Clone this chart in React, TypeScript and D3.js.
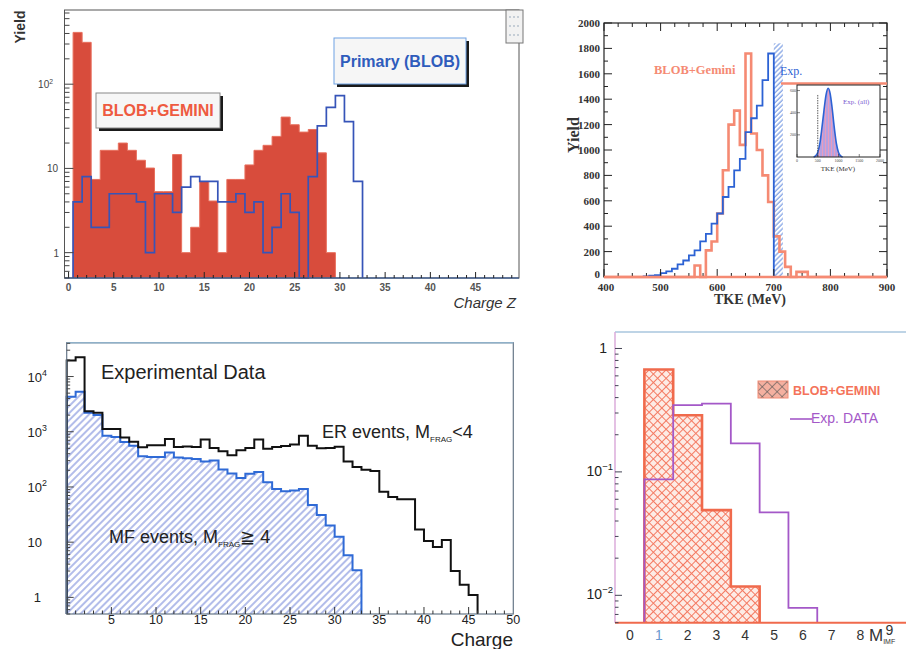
import React, { useEffect, useRef } from 'react';
import * as d3 from 'd3';

// top left: charge Z, unit bins, first bin centred on Z = 1
const zBinStart = 0.5;
const zBlobGemini = [412, 314, 7.4, 16.4, 16.4, 20, 16.4, 12.5, 10.1, 5.3, 5.3, 14.6, 1, 2, 7, 4.1, 1, 7.4, 7.4, 11, 16.4, 18.8, 24, 40.7, 33, 27, 29, 15.3, 1];
const zPrimaryBlob = [4, 8, 2, 2, 5, 5, 5, 4, 1, 5, 5, 3, 6, 8, 7, 7, 4, 4, 5, 3, 4, 1, 2, 5, 3, 0, 8, 32, 53, 73, 36, 7];
const zTickLabels = [0, 5, 10, 15, 20, 25, 30, 35, 40, 45];

// top right: TKE, 10 MeV bins
const tkeBin = 10;
const tkeGeminiStart = 400;
const tkeBlobGemini = [0, 0, 0, 0, 0, 0, 0, 0, 0, 0, 0, 0, 0, 0, 0, 0, 90, 0, 210, 280, 500, 840, 1200, 1310, 1040, 1760, 1130, 1000, 800, 590, 320, 200, 80, 0, 40, 40, 0, 0, 0, 0, 0, 0, 0, 0, 0, 0, 0, 0, 0, 0];
const tkeExpStart = 470;
const tkeExp = [5, 10, 15, 30, 45, 65, 100, 130, 170, 210, 280, 340, 420, 500, 630, 710, 840, 930, 1140, 1250, 1350, 1550, 1760];
const tkeTickLabels = [400, 500, 600, 700, 800, 900];
const yieldTickLabels = [0, 200, 400, 600, 800, 1000, 1200, 1400, 1600, 1800, 2000];
const expBand = [700, 716];
const expBandTop = 1840;

// inset of the top right panel
const insetStart = 400;
const insetBin = 50;
const insetYield = [0, 10, 40, 120, 260, 420, 560, 620, 570, 430, 260, 120, 40, 10, 0];
const insetTickLabels = [0, 500, 1000, 1500, 2000];
const insetYieldTicks = [200, 400, 600];

// bottom left: charge, unit bins starting at 0
const chargeStart = 0;
const chargeErEvents = [19500, 22400, 2340, 2200, 1120, 1120, 790, 660, 523, 570, 570, 740, 530, 540, 530, 720, 510, 444, 376, 460, 510, 720, 490, 530, 550, 590, 850, 560, 500, 510, 535, 290, 230, 205, 195, 82, 66, 60, 60, 17, 10.5, 8.2, 11, 3, 1.7, 1.1];
const chargeMfEvents = [4300, 5300, 2200, 2000, 850, 800, 650, 560, 360, 350, 350, 420, 340, 330, 320, 290, 300, 207, 175, 146, 173, 186, 122, 92, 84, 86, 92, 47, 31, 20, 12.6, 5.8, 3.1];
const chargeTickLabels = [5, 10, 15, 20, 25, 30, 35, 40, 45, 50];
const chargeDecades = [0, 1, 2, 3, 4];

// bottom right: IMF multiplicity, first bin centred on 1
const imfStart = 0.5;
const imfBlobGemini = [0.676, 0.288, 0.049, 0.0118];
const imfExpData = [0.087, 0.347, 0.358, 0.17, 0.047, 0.0079];
const imfTickLabels = [0, 1, 2, 3, 4, 5, 6, 7, 8, 9];
const imfDecades = [0, -1, -2];

const SANS = 'Liberation Sans, Arial, Helvetica, sans-serif';
const SERIF = 'Liberation Serif, Times New Roman, serif';

// step outline of a histogram, dropping to the floor at both ends
const histPath = (x: any, y: any, start: number, width: number, vals: number[], floor: number) => {
    const pts: [number, number][] = [[start, floor]];
    vals.forEach((v, i) => {
        const h = Math.max(v, floor);
        pts.push([start + i * width, h], [start + (i + 1) * width, h]);
    });
    pts.push([start + vals.length * width, floor]);
    return d3.line<[number, number]>().x(d => x(d[0])).y(d => y(d[1]))(pts);
};

const logTicks = (lo: number, hi: number) => {
    const out: { v: number, major: boolean }[] = [];
    for (let e = Math.floor(Math.log10(lo)); e <= Math.ceil(Math.log10(hi)); e++) {
        for (let m = 1; m < 10; m++) {
            const v = m * Math.pow(10, e);
            if (v >= lo && v <= hi) out.push({ v, major: m === 1 });
        }
    }
    return out;
};

const powLabel = (g: any, x: number, y: number, exp: string, size: number, font: string, color = '#222') => {
    const t = g.append('text').attr('x', x).attr('y', y).attr('text-anchor', 'end')
        .style('font-family', font).style('font-size', `${size}px`).attr('fill', color);
    t.append('tspan').text('10');
    t.append('tspan').attr('dy', -size * 0.45).style('font-size', `${size * 0.68}px`).text(exp);
};

const App = () => {
    const svgRef = useRef<SVGSVGElement>(null);

    useEffect(() => {
        const svg = d3.select(svgRef.current);
        svg.selectAll('*').remove();

        const defs = svg.append('defs');
        const diag = defs.append('pattern').attr('id', 'diagBlue').attr('patternUnits', 'userSpaceOnUse')
            .attr('width', 5).attr('height', 5).attr('patternTransform', 'rotate(45)');
        diag.append('line').attr('x1', 1).attr('y1', 0).attr('x2', 1).attr('y2', 5)
            .attr('stroke', '#8090dc').attr('stroke-width', 1.2);
        const diag2 = defs.append('pattern').attr('id', 'diagExp').attr('patternUnits', 'userSpaceOnUse')
            .attr('width', 3.5).attr('height', 3.5).attr('patternTransform', 'rotate(45)');
        diag2.append('line').attr('x1', 1).attr('y1', 0).attr('x2', 1).attr('y2', 3.5)
            .attr('stroke', '#5b86dc').attr('stroke-width', 1);
        const cross = defs.append('pattern').attr('id', 'crossRed').attr('patternUnits', 'userSpaceOnUse')
            .attr('width', 6).attr('height', 6).attr('patternTransform', 'rotate(45)');
        cross.append('rect').attr('width', 6).attr('height', 6).attr('fill', '#fdebe5');
        cross.append('line').attr('x1', 0).attr('y1', 0).attr('x2', 0).attr('y2', 6).attr('stroke', '#f47a62').attr('stroke-width', 2);
        cross.append('line').attr('x1', 0).attr('y1', 0).attr('x2', 6).attr('y2', 0).attr('stroke', '#f47a62').attr('stroke-width', 2);
        const crossDark = defs.append('pattern').attr('id', 'crossDark').attr('patternUnits', 'userSpaceOnUse')
            .attr('width', 7).attr('height', 7).attr('patternTransform', 'rotate(45)');
        crossDark.append('rect').attr('width', 7).attr('height', 7).attr('fill', '#f4b0a0');
        crossDark.append('line').attr('x1', 0).attr('y1', 0).attr('x2', 0).attr('y2', 7).attr('stroke', '#555').attr('stroke-width', 1.2);
        crossDark.append('line').attr('x1', 0).attr('y1', 0).attr('x2', 7).attr('y2', 0).attr('stroke', '#555').attr('stroke-width', 1.2);
        const stripes = defs.append('pattern').attr('id', 'insetStripes').attr('patternUnits', 'userSpaceOnUse')
            .attr('width', 3).attr('height', 10);
        stripes.append('rect').attr('width', 3).attr('height', 10).attr('fill', '#a990dc');
        stripes.append('line').attr('x1', 0.5).attr('y1', 0).attr('x2', 0.5).attr('y2', 10).attr('stroke', '#e48bb4').attr('stroke-width', 1);

        svg.append('rect').attr('width', 906).attr('height', 649).attr('fill', '#fff');

        // ---------------- top left ----------------
        const gA = svg.append('g');
        const ax = d3.scaleLinear().domain([-0.45, 49.8]).range([64.5, 519]);
        const ay = d3.scaleLog().domain([0.5, 760]).range([278, 10]);
        gA.append('path').attr('d', histPath(ax, ay, zBinStart, 1, zBlobGemini, 0.5))
            .attr('fill', '#d84c3c').attr('stroke', '#e8705e').attr('stroke-width', 1);
        gA.append('line').attr('x1', 64.5).attr('x2', 519).attr('y1', 278).attr('y2', 278)
            .attr('stroke', '#3a70d0').attr('stroke-width', 1.5);
        gA.append('path').attr('d', histPath(ax, ay, zBinStart, 1, zPrimaryBlob, 0.5))
            .attr('fill', 'none').attr('stroke', '#3654b8').attr('stroke-width', 1.7);
        gA.append('rect').attr('x', 64.5).attr('y', 10).attr('width', 454.5).attr('height', 268)
            .attr('fill', 'none').attr('stroke', '#555').attr('stroke-width', 1);
        d3.range(0, 50).forEach(i => {
            gA.append('line').attr('x1', ax(i)).attr('x2', ax(i)).attr('y1', 278).attr('y2', 278 - (i % 5 === 0 ? 6 : 3))
                .attr('stroke', '#222').attr('stroke-width', 1);
        });
        zTickLabels.forEach(v => {
            gA.append('text').attr('x', ax(v)).attr('y', 291).attr('text-anchor', 'middle')
                .style('font-family', SANS).style('font-size', '10px').style('font-weight', 'bold').attr('fill', '#555').text(v);
        });
        logTicks(0.5, 760).forEach(t => {
            gA.append('line').attr('x1', 64.5).attr('x2', 64.5 + (t.major ? 9 : 5)).attr('y1', ay(t.v)).attr('y2', ay(t.v))
                .attr('stroke', '#444').attr('stroke-width', 1);
        });
        gA.append('text').attr('x', 59).attr('y', ay(1) + 4).attr('text-anchor', 'end')
            .style('font-family', SANS).style('font-size', '10px').attr('fill', '#444').text('1');
        gA.append('text').attr('x', 58).attr('y', ay(10) + 4).attr('text-anchor', 'end')
            .style('font-family', SANS).style('font-size', '10px').attr('fill', '#444').text('10');
        powLabel(gA, 53, ay(100) + 4, '2', 10, SANS, '#444');
        gA.append('text').attr('transform', 'translate(25,27) rotate(-90)').attr('text-anchor', 'middle')
            .style('font-family', SANS).style('font-size', '14px').style('font-weight', 'bold').attr('fill', '#333').text('Yield');
        gA.append('text').attr('x', 516).attr('y', 308).attr('text-anchor', 'end')
            .style('font-family', SANS).style('font-size', '15px').style('font-style', 'italic').attr('fill', '#333').text('Charge Z');

        // label boxes with drop shadow
        const labelBox = (x: number, y: number, w: number, h: number, border: string, text: string, color: string, size: number) => {
            gA.append('rect').attr('x', x + 3).attr('y', y + 3).attr('width', w).attr('height', h).attr('fill', '#1a1a1a');
            gA.append('rect').attr('x', x).attr('y', y).attr('width', w).attr('height', h)
                .attr('fill', '#f6f6f6').attr('stroke', border).attr('stroke-width', 1);
            gA.append('text').attr('x', x + w / 2).attr('y', y + h / 2 + size * 0.36).attr('text-anchor', 'middle')
                .style('font-family', SANS).style('font-size', `${size}px`).style('font-weight', 'bold').attr('fill', color).text(text);
        };
        labelBox(96, 93, 124, 35, '#888', 'BLOB+GEMINI', '#ee5a40', 16);
        labelBox(334, 38, 132, 46, '#6fa2e4', 'Primary (BLOB)', '#2f5cbc', 16);
        gA.append('rect').attr('x', 506).attr('y', 10).attr('width', 17).attr('height', 33)
            .attr('fill', '#f2f2f2').attr('stroke', '#777').attr('stroke-width', 1);
        [17, 26, 35].forEach(yy => {
            gA.append('line').attr('x1', 509).attr('x2', 520).attr('y1', yy).attr('y2', yy)
                .attr('stroke', '#9ab').attr('stroke-width', 1).attr('stroke-dasharray', '2,2');
        });

        // ---------------- top right ----------------
        const gB = svg.append('g');
        const bx = d3.scaleLinear().domain([400, 900]).range([604, 887]);
        const by = d3.scaleLinear().domain([0, 2000]).range([277, 23]);
        gB.append('rect').attr('x', bx(expBand[0])).attr('y', by(expBandTop))
            .attr('width', bx(expBand[1]) - bx(expBand[0])).attr('height', by(0) - by(expBandTop))
            .attr('fill', 'url(#diagExp)');
        gB.append('path').attr('d', histPath(bx, by, tkeGeminiStart, tkeBin, tkeBlobGemini, 0))
            .attr('fill', 'none').attr('stroke', '#f58a73').attr('stroke-width', 2.6);
        gB.append('path').attr('d', histPath(bx, by, tkeExpStart, tkeBin, tkeExp, 0))
            .attr('fill', 'none').attr('stroke', '#2c62d4').attr('stroke-width', 1.8);
        gB.append('rect').attr('x', 604).attr('y', 23).attr('width', 283).attr('height', 254)
            .attr('fill', 'none').attr('stroke', '#222').attr('stroke-width', 1.2);
        d3.range(400, 901, 25).forEach(v => {
            const len = v % 100 === 0 ? 8 : 4;
            gB.append('line').attr('x1', bx(v)).attr('x2', bx(v)).attr('y1', 277).attr('y2', 277 - len).attr('stroke', '#222');
            gB.append('line').attr('x1', bx(v)).attr('x2', bx(v)).attr('y1', 23).attr('y2', 23 + len).attr('stroke', '#222');
        });
        d3.range(0, 2001, 100).forEach(v => {
            const len = v % 200 === 0 ? 8 : 4;
            gB.append('line').attr('x1', 604).attr('x2', 604 + len).attr('y1', by(v)).attr('y2', by(v)).attr('stroke', '#222');
            gB.append('line').attr('x1', 887).attr('x2', 887 - len).attr('y1', by(v)).attr('y2', by(v)).attr('stroke', '#222');
        });
        gB.append('line').attr('x1', 604).attr('x2', 887).attr('y1', 277).attr('y2', 277)
            .attr('stroke', '#f58a73').attr('stroke-width', 2.6);
        yieldTickLabels.forEach(v => {
            gB.append('text').attr('x', 600).attr('y', v === 0 ? by(v) + 1 : by(v) + 4).attr('text-anchor', 'end')
                .style('font-family', SERIF).style('font-size', '11px').style('font-weight', 'bold').attr('fill', '#333').text(v);
        });
        tkeTickLabels.forEach(v => {
            gB.append('text').attr('x', v === 400 ? bx(v) + 2 : bx(v)).attr('y', 291).attr('text-anchor', 'middle')
                .style('font-family', SERIF).style('font-size', '11px').style('font-weight', 'bold').attr('fill', '#333').text(v);
        });
        gB.append('text').attr('transform', 'translate(579,135) rotate(-90)').attr('text-anchor', 'middle')
            .style('font-family', SERIF).style('font-size', '16px').style('font-weight', 'bold').attr('fill', '#333').text('Yield');
        gB.append('text').attr('x', 750).attr('y', 304).attr('text-anchor', 'middle')
            .style('font-family', SERIF).style('font-size', '14px').style('font-weight', 'bold').attr('fill', '#333').text('TKE (MeV)');
        gB.append('text').attr('x', 654).attr('y', 74)
            .style('font-family', SERIF).style('font-size', '12.5px').style('font-weight', 'bold').attr('fill', '#f58a73').text('BLOB+Gemini');
        gB.append('text').attr('x', 780).attr('y', 75)
            .style('font-family', SERIF).style('font-size', '12px').attr('fill', '#2c62d4').text('Exp.');

        // inset
        const ix = d3.scaleLinear().domain([0, 2000]).range([797, 880]);
        const iy = d3.scaleLinear().domain([0, 650]).range([157, 85]);
        gB.append('line').attr('x1', 781).attr('x2', 887).attr('y1', 83.5).attr('y2', 83.5)
            .attr('stroke', '#f58a73').attr('stroke-width', 2.4);
        gB.append('rect').attr('x', 797).attr('y', 85).attr('width', 83).attr('height', 72).attr('fill', '#fff');
        const insetPts: [number, number][] = insetYield.map((v, i) => [insetStart + i * insetBin, v]);
        gB.append('path').attr('d', d3.area<[number, number]>().x(d => ix(d[0])).y0(iy(0)).y1(d => iy(d[1]))
            .curve(d3.curveMonotoneX)(insetPts)).attr('fill', 'url(#insetStripes)').attr('opacity', 0.85);
        gB.append('path').attr('d', d3.line<[number, number]>().x(d => ix(d[0])).y(d => iy(d[1]))
            .curve(d3.curveMonotoneX)(insetPts)).attr('fill', 'none').attr('stroke', '#2c62d4').attr('stroke-width', 1.6);
        gB.append('line').attr('x1', ix(500)).attr('x2', ix(500)).attr('y1', iy(560)).attr('y2', iy(0))
            .attr('stroke', '#333').attr('stroke-width', 0.8).attr('stroke-dasharray', '1.5,1');
        gB.append('rect').attr('x', 797).attr('y', 85).attr('width', 83).attr('height', 72)
            .attr('fill', 'none').attr('stroke', '#222').attr('stroke-width', 1);
        insetTickLabels.forEach(v => {
            gB.append('line').attr('x1', ix(v)).attr('x2', ix(v)).attr('y1', 157).attr('y2', 154).attr('stroke', '#333').attr('stroke-width', 0.6);
            gB.append('text').attr('x', ix(v)).attr('y', 162).attr('text-anchor', 'middle')
                .style('font-family', SERIF).style('font-size', '4px').attr('fill', '#444').text(v);
        });
        insetYieldTicks.forEach(v => {
            gB.append('line').attr('x1', 797).attr('x2', 800).attr('y1', iy(v)).attr('y2', iy(v)).attr('stroke', '#333').attr('stroke-width', 0.6);
            gB.append('text').attr('x', 796).attr('y', iy(v) + 1.5).attr('text-anchor', 'end')
                .style('font-family', SERIF).style('font-size', '4px').attr('fill', '#444').text(v);
        });
        gB.append('text').attr('x', 843).attr('y', 104)
            .style('font-family', SERIF).style('font-size', '7px').attr('fill', '#7a5ad0').text('Exp. (all)');
        gB.append('text').attr('x', 838).attr('y', 171).attr('text-anchor', 'middle')
            .style('font-family', SERIF).style('font-size', '7px').attr('fill', '#333').text('TKE (MeV)');

        // ---------------- bottom left ----------------
        const gC = svg.append('g');
        const cx = d3.scaleLinear().domain([0, 50]).range([66.7, 513.3]);
        const cy = d3.scaleLog().domain([0.5, 41000]).range([614, 342.7]);
        const mfPath = histPath(cx, cy, chargeStart, 1, chargeMfEvents, 0.5);
        gC.append('path').attr('d', mfPath).attr('fill', 'url(#diagBlue)');
        gC.append('path').attr('d', mfPath).attr('fill', 'none').attr('stroke', '#2f6ad6').attr('stroke-width', 2);
        gC.append('path').attr('d', histPath(cx, cy, chargeStart, 1, chargeErEvents, 0.5))
            .attr('fill', 'none').attr('stroke', '#111').attr('stroke-width', 2);
        gC.append('rect').attr('x', 66.7).attr('y', 342.7).attr('width', 446.6).attr('height', 271.3)
            .attr('fill', 'none').attr('stroke', '#667788').attr('stroke-width', 1.2);
        gC.append('line').attr('x1', 66.7).attr('x2', 513.3).attr('y1', 342.7).attr('y2', 342.7)
            .attr('stroke', '#8fb0c8').attr('stroke-width', 1.5);
        d3.range(1, 50).forEach(i => {
            gC.append('line').attr('x1', cx(i)).attr('x2', cx(i)).attr('y1', 614).attr('y2', 614 - (i % 5 === 0 ? 7 : 3.5))
                .attr('stroke', '#333').attr('stroke-width', 1);
        });
        logTicks(0.5, 41000).forEach(t => {
            gC.append('line').attr('x1', 66.7).attr('x2', 66.7 + (t.major ? 7 : 3.5)).attr('y1', cy(t.v)).attr('y2', cy(t.v))
                .attr('stroke', '#444').attr('stroke-width', 1);
        });
        chargeDecades.forEach(e => {
            if (e === 0) {
                gC.append('text').attr('x', 41).attr('y', cy(1) + 5).attr('text-anchor', 'end')
                    .style('font-family', SANS).style('font-size', '13px').attr('fill', '#222').text('1');
            } else if (e === 1) {
                gC.append('text').attr('x', 42).attr('y', cy(10) + 5).attr('text-anchor', 'end')
                    .style('font-family', SANS).style('font-size', '13px').attr('fill', '#222').text('10');
            } else {
                powLabel(gC, 47, cy(Math.pow(10, e)) + 5, String(e), 13, SANS);
            }
        });
        chargeTickLabels.forEach(v => {
            gC.append('text').attr('x', cx(v)).attr('y', 624).attr('text-anchor', 'middle')
                .style('font-family', SANS).style('font-size', '12.5px').attr('fill', '#222').text(v);
        });
        gC.append('text').attr('x', 101).attr('y', 379)
            .style('font-family', SANS).style('font-size', '20px').attr('fill', '#222').text('Experimental Data');
        const er = gC.append('text').attr('x', 322).attr('y', 438)
            .style('font-family', SANS).style('font-size', '18px').attr('fill', '#222');
        er.append('tspan').text('ER events, M');
        er.append('tspan').attr('dy', 4).style('font-size', '8px').text('FRAG');
        er.append('tspan').attr('dy', -4).text('<4');
        const mf = gC.append('text').attr('x', 109).attr('y', 543)
            .style('font-family', SANS).style('font-size', '18px').attr('fill', '#222');
        mf.append('tspan').text('MF events, M');
        mf.append('tspan').attr('dy', 4).style('font-size', '8px').text('FRAG');
        mf.append('tspan').attr('dy', -4).text('≧ 4');
        gC.append('text').attr('x', 513).attr('y', 646).attr('text-anchor', 'end')
            .style('font-family', SANS).style('font-size', '19px').attr('fill', '#222').text('Charge');

        // ---------------- bottom right ----------------
        const gD = svg.append('g');
        const mx = d3.scaleLinear().domain([-0.52, 9.58]).range([615, 906]);
        const my = d3.scaleLog().domain([0.006, 1.36]).range([622.7, 332]);
        const gemPath = histPath(mx, my, imfStart, 1, imfBlobGemini, 0.006);
        gD.append('path').attr('d', gemPath).attr('fill', 'url(#crossRed)');
        gD.append('path').attr('d', gemPath).attr('fill', 'none').attr('stroke', '#f06a4c').attr('stroke-width', 2.6);
        gD.append('path').attr('d', histPath(mx, my, imfStart, 1, imfExpData, 0.006))
            .attr('fill', 'none').attr('stroke', '#a458c8').attr('stroke-width', 1.8);
        gD.append('line').attr('x1', 615).attr('x2', 906).attr('y1', 332).attr('y2', 332)
            .attr('stroke', '#a9c6de').attr('stroke-width', 1.5);
        gD.append('line').attr('x1', 615).attr('x2', 615).attr('y1', 332).attr('y2', 622.7)
            .attr('stroke', '#d9a6d8').attr('stroke-width', 1.4);
        gD.append('line').attr('x1', 615).attr('x2', 906).attr('y1', 622.7).attr('y2', 622.7)
            .attr('stroke', '#f06a4c').attr('stroke-width', 2);
        logTicks(0.006, 1.36).forEach(t => {
            gD.append('line').attr('x1', 615).attr('x2', 615 + (t.major ? 7 : 3.5)).attr('y1', my(t.v)).attr('y2', my(t.v))
                .attr('stroke', '#445').attr('stroke-width', 1);
        });
        imfDecades.forEach(e => {
            if (e === 0) {
                gD.append('text').attr('x', 607).attr('y', my(1) + 5).attr('text-anchor', 'end')
                    .style('font-family', SANS).style('font-size', '14px').attr('fill', '#222').text('1');
            } else {
                powLabel(gD, 613, my(Math.pow(10, e)) + 4, `−${-e}`, 14, SANS);
            }
        });
        imfTickLabels.forEach(v => {
            gD.append('text').attr('x', mx(v)).attr('y', v === 9 ? 635 : 640).attr('text-anchor', 'middle')
                .style('font-family', SANS).style('font-size', '14px').attr('fill', v === 1 ? '#6a9ad0' : '#333').text(v);
        });
        const mLab = gD.append('text').attr('x', 869).attr('y', 641)
            .style('font-family', SANS).style('font-size', '17px').attr('fill', '#333');
        mLab.append('tspan').text('M');
        mLab.append('tspan').attr('dy', 3).style('font-size', '7px').text('IMF');
        gD.append('rect').attr('x', 758).attr('y', 381).attr('width', 30).attr('height', 17)
            .attr('fill', 'url(#crossDark)').attr('stroke', '#f28c76').attr('stroke-width', 1);
        gD.append('text').attr('x', 793).attr('y', 395)
            .style('font-family', SANS).style('font-size', '12.5px').style('font-weight', 'bold').attr('fill', '#f4735a').text('BLOB+GEMINI');
        gD.append('line').attr('x1', 790).attr('x2', 812).attr('y1', 419).attr('y2', 419)
            .attr('stroke', '#a458c8').attr('stroke-width', 1.6);
        gD.append('text').attr('x', 811).attr('y', 423)
            .style('font-family', SANS).style('font-size', '14px').attr('fill', '#a458c8').text('Exp. DATA');
    }, []);

    return (
        <svg ref={svgRef} width={906} height={649}
            style={{ position: 'absolute', left: 0, top: 0, background: '#fff' }}></svg>
    );
};

export default App;
